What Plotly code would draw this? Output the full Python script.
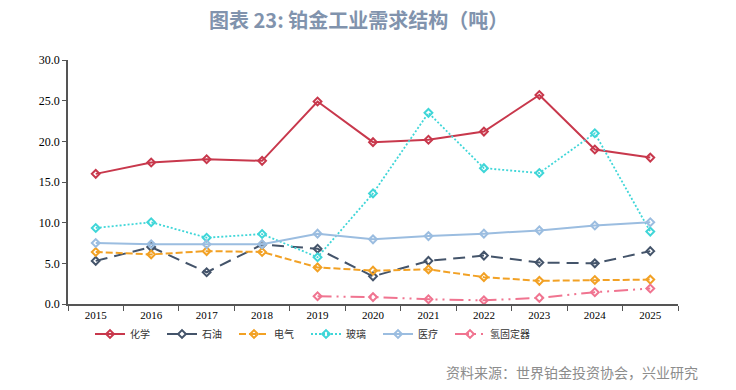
import plotly.graph_objects as go

years = [str(y) for y in range(2015, 2026)]
chem = [16.0, 17.4, 17.8, 17.6, 24.9, 19.9, 20.2, 21.2, 25.7, 19.0, 18.0]
oil = [5.3, 7.0, 3.9, 7.3, 6.8, 3.4, 5.3, 5.95, 5.1, 5.0, 6.5]
elec = [6.4, 6.1, 6.5, 6.4, 4.5, 4.1, 4.25, 3.3, 2.85, 2.95, 3.0]
glass = [9.35, 10.05, 8.15, 8.6, 5.75, 13.6, 23.5, 16.7, 16.1, 21.0, 8.9]
med = [7.5, 7.35, 7.35, 7.35, 8.65, 7.95, 8.35, 8.65, 9.05, 9.65, 10.05]
hydro_years = years[4:]
hydro = [0.95, 0.85, 0.58, 0.45, 0.75, 1.45, 1.9]

names = ["化学", "石油", "电气", "玻璃", "医疗", "氢固定器"]

fig = go.Figure()
specs = [
    (years, chem, names[0], "#c8384c", "solid", 2),
    (years, oil, names[1], "#44546a", "12px,7px", 2),
    (years, elec, names[2], "#f2a124", "7px,3px", 2),
    (years, glass, names[3], "#3fd6d8", "2px,2px", 1.8),
    (years, med, names[4], "#9bbde0", "solid", 2),
    (hydro_years, hydro, names[5], "#f07490", "14px,5px,2px,5px,2px,5px", 2),
]
for i, (x, y, n, c, d, w) in enumerate(specs):
    fig.add_trace(go.Scatter(
        x=x, y=y, name=n, mode="lines+markers",
        line=dict(color=c, dash=d, width=w),
        marker=dict(symbol="diamond-open", size=6, color=c, line=dict(width=2, color=c)),
        legendwidth=(110 if i == len(specs) - 1 else None),
    ))

L, T, R, B = 68, 60, 58, 86
W, H = 736, 390
pw = W - L - R
ph = H - T - B

fig.update_layout(
    width=W, height=H,
    margin=dict(l=L, r=R, t=T, b=B),
    paper_bgcolor="white", plot_bgcolor="white",
    showlegend=True,
    legend=dict(orientation="h", x=(90 - L) / pw, y=(304 - 334) / ph,
                xanchor="left", yanchor="middle", bgcolor="rgba(0,0,0,0)",
                font=dict(family="Noto Sans CJK SC", size=10, color="#333333"),
                entrywidth=27, entrywidthmode="pixels", tracegroupgap=0),
    annotations=[
        dict(text="<b>图表 23: 铂金工业需求结构（吨）</b>",
             x=(358 - L) / pw, y=1 + (T - 19) / ph, xref="paper", yref="paper",
             xanchor="center", yanchor="middle", showarrow=False,
             font=dict(family="Noto Sans CJK SC", size=20, color="#8193ad")),
        dict(text="资料来源：世界铂金投资协会，兴业研究",
             x=(700 - L) / pw, y=(304 - 372) / ph, xref="paper", yref="paper",
             xanchor="right", yanchor="middle", showarrow=False,
             font=dict(family="Noto Sans CJK SC", size=14, color="#8c8c8c")),
    ],
)

fig.update_xaxes(
    type="category", range=[-0.5, 10.5], tickson="boundaries",
    showline=True, linecolor="#555555", linewidth=1.5,
    ticks="outside", ticklen=5, tickcolor="#555555",
    showgrid=False, tickfont=dict(family="Liberation Serif", size=11, color="#000000"),
)
fig.update_yaxes(
    range=[0, 30], dtick=5, tickformat=".1f",
    showline=True, linecolor="#555555", linewidth=1.5,
    ticks="outside", ticklen=4, tickcolor="#555555",
    showgrid=False, zeroline=False,
    tickfont=dict(family="Liberation Serif", size=12, color="#000000"),
)

fig.write_html("out.html", config={"displayModeBar": False},
               post_script="document.body.style.margin='0';")
